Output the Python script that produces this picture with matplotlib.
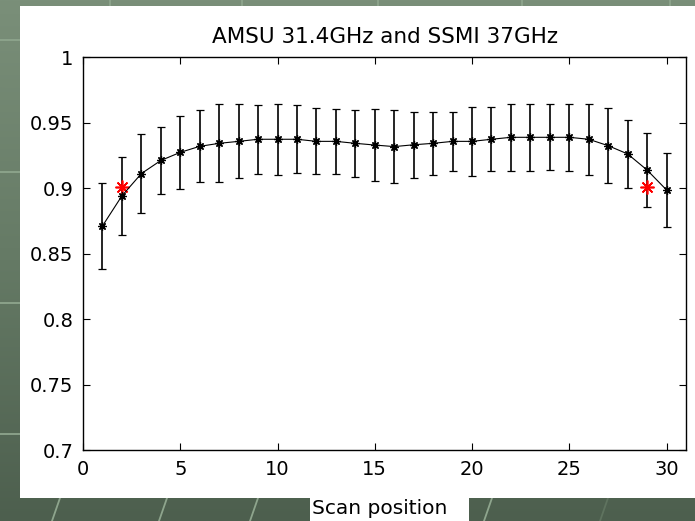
import numpy as np
import matplotlib
matplotlib.use("Agg")
import matplotlib.pyplot as plt
from matplotlib.patches import Rectangle
from matplotlib.colors import LinearSegmentedColormap

# Mean emissivity per scan position with its standard deviation
scan_pos = list(range(1, 31))
emis = [0.8710, 0.8940, 0.9110, 0.9210, 0.9272, 0.9318, 0.9341, 0.9356, 0.9372, 0.9372,
        0.9372, 0.9356, 0.9356, 0.9341, 0.9328, 0.9316, 0.9330, 0.9341, 0.9356, 0.9356,
        0.9372, 0.9387, 0.9387, 0.9387, 0.9387, 0.9372, 0.9323, 0.9260, 0.9137, 0.8985]
emis_std = [0.0330, 0.0300, 0.0300, 0.0253, 0.0278, 0.0274, 0.0298, 0.0283, 0.0264, 0.0270,
            0.0258, 0.0252, 0.0246, 0.0258, 0.0272, 0.0280, 0.0250, 0.0238, 0.0227, 0.0265,
            0.0246, 0.0257, 0.0257, 0.0251, 0.0257, 0.0270, 0.0284, 0.0260, 0.0282, 0.0280]

# SSMI 37GHz reference values
ssmi_pos = [2, 29]
ssmi_emis = [0.901, 0.901]

xticks = [0, 5, 10, 15, 20, 25, 30]
yticks = [0.7, 0.75, 0.8, 0.85, 0.9, 0.95, 1.0]
ytick_labels = ['0.7', '0.75', '0.8', '0.85', '0.9', '0.95', '1']

plt.rcParams['font.family'] = ['DejaVu Sans']

W, H = 695, 521
fig = plt.figure(figsize=(W / 100, H / 100), dpi=100)

# green slide background (pixel coordinates)
bg = fig.add_axes([0, 0, 1, 1])
bg.set_xlim(0, W)
bg.set_ylim(H, 0)
bg.axis('off')
green = LinearSegmentedColormap.from_list('slide', ['#7a8f79', '#657a65', '#4d5f4e'])
bg.imshow(np.linspace(0, 1, 256).reshape(-1, 1), cmap=green, aspect='auto',
          extent=[0, W, H, 0], zorder=0)
line_col = '#8ea58d'
for yy in [40, 172, 303, 434]:
    bg.plot([0, 20], [yy, yy], color=line_col, lw=1.3, zorder=1)
for xx in [110, 242, 378, 522, 670]:
    bg.plot([xx, xx], [0, 6], color=line_col, lw=1.3, zorder=1)
for xx in [60, 167, 258, 492]:
    bg.plot([xx, xx - 8], [498, H], color=line_col, lw=1.3, zorder=1)
bg.plot([608, 600], [498, H], color='#5f735f', lw=1.3, zorder=1)
bg.add_patch(Rectangle((20, 6), W - 20, 492, facecolor='white', edgecolor='none', zorder=2))
bg.add_patch(Rectangle((310, 498), 159, 23, facecolor='white', edgecolor='none', zorder=2))
bg.text(312, 509, 'Scan position', fontsize=14.5, ha='left', va='center', zorder=3)

ax = fig.add_axes([83 / W, 1 - 450 / H, 603 / W, 393 / H])
ax.set_facecolor('white')

asterisk = (8, 2, 0)
ax.errorbar(scan_pos, emis, yerr=emis_std, color='black', lw=0.8,
            marker=asterisk, ms=6, mew=0.9, elinewidth=1.2, capsize=3, capthick=1.2)
ax.plot(ssmi_pos, ssmi_emis, linestyle='none', marker=asterisk, color='red',
        ms=10, mew=1.2)

ax.set_xlim(0, 31)
ax.set_ylim(0.7, 1.0)
ax.set_xticks(xticks)
ax.set_yticks(yticks)
ax.set_yticklabels(ytick_labels)
ax.tick_params(direction='in', length=5, width=0.8, top=True, right=True,
               labelsize=14, pad=7, colors='black')
for s in ax.spines.values():
    s.set_linewidth(1.0)

ax.set_title('AMSU 31.4GHz and SSMI 37GHz', fontsize=15.5, pad=10)

fig.savefig('out.png', dpi=100)
